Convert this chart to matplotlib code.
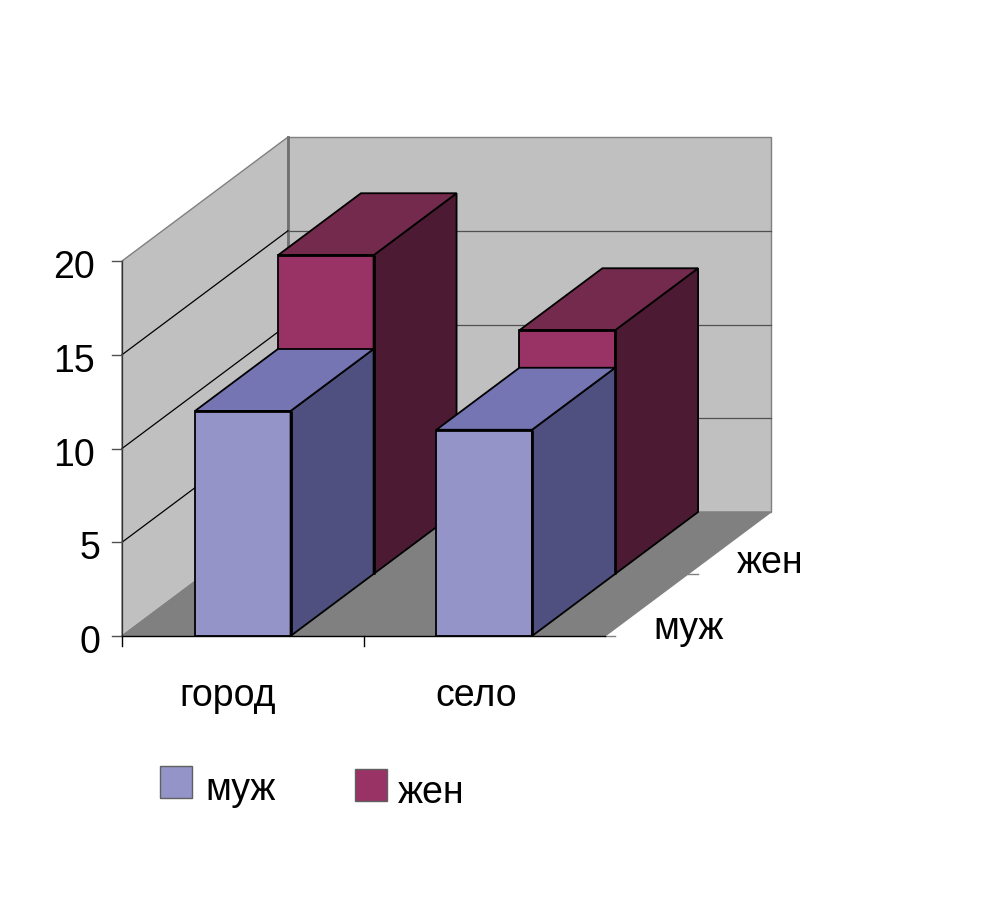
import matplotlib

matplotlib.use("Agg")
import matplotlib.pyplot as plt
from matplotlib.patches import Polygon, Rectangle
from matplotlib.transforms import Affine2D

plt.rcParams["font.family"] = ["Liberation Sans", "DejaVu Sans"]

categories = ["город", "село"]
series_names = ["муж", "жен"]
male_values = [12, 11]
female_values = [17, 13]
value_ticks = [0, 5, 10, 15, 20]

W, H = 1001, 909
X0, Y0 = 122, 636  # pixel position of the front left floor corner
CAT_PX = 241.5  # pixels per category
VAL_PX = 18.75  # pixels per value unit
DEPTH_DX = 166 / CAT_PX  # full depth, in category units
DEPTH_DY = 124 / VAL_PX  # full depth, in value units

BAR_OFFSET = 0.302
BAR_WIDTH = 0.396

front_colors = {"муж": "#9494c9", "жен": "#993366"}
top_colors = {"муж": "#7575b4", "жен": "#732a4d"}
side_colors = {"муж": "#4f4f80", "жен": "#4d1a33"}

fig = plt.figure(figsize=(W / 100, H / 100), dpi=100)
ax = fig.add_axes([0, 0, 1, 1])
ax.set_xlim(-X0 / CAT_PX, (W - X0) / CAT_PX)
ax.set_ylim((Y0 - H) / VAL_PX, Y0 / VAL_PX)
ax.axis("off")

# top-left pixel coordinates, for the labels and legend
px = Affine2D().scale(1 / W, -1 / H).translate(0, 1) + fig.transFigure


def pt(cat, val, depth):
    return (cat + depth * DEPTH_DX, val + depth * DEPTH_DY)


def face(points, color, edge="black", lw=1.3, z=1):
    ax.add_patch(Polygon(points, closed=True, facecolor=color, edgecolor=edge,
                         linewidth=lw, joinstyle="miter", zorder=z))


def draw_bar(i, value, name, d0, d1, z):
    x0 = i + BAR_OFFSET
    x1 = x0 + BAR_WIDTH
    face([pt(x0, 0, d0), pt(x1, 0, d0), pt(x1, value, d0), pt(x0, value, d0)],
         front_colors[name], z=z)
    face([pt(x1, 0, d0), pt(x1, 0, d1), pt(x1, value, d1), pt(x1, value, d0)],
         side_colors[name], z=z)
    face([pt(x0, value, d0), pt(x1, value, d0), pt(x1, value, d1), pt(x0, value, d1)],
         top_colors[name], z=z)
    # heavier front edges, as in the original
    ax.plot(*zip(pt(x0, value, d0), pt(x1, value, d0)),
            color="black", lw=2.0, zorder=z, solid_capstyle="butt")
    ax.plot(*zip(pt(x1, 0, d0), pt(x1, value, d0)),
            color="black", lw=2.0, zorder=z, solid_capstyle="butt")


top = value_ticks[-1]

# walls and floor
face([pt(0, 0, 0), pt(0, 0, 1), pt(0, top, 1), pt(0, top, 0)], "#c0c0c0", edge="#808080", lw=1)
face([pt(0, 0, 1), pt(2, 0, 1), pt(2, top, 1), pt(0, top, 1)], "#c0c0c0", edge="#808080", lw=1)
face([pt(0, 0, 0), pt(2, 0, 0), pt(2, 0, 1), pt(0, 0, 1)], "#808080", edge="#808080", lw=1)
ax.plot(*zip(pt(0, 0, 1), pt(0, top, 1)), color="#707070", lw=2, zorder=1.1)

# gridlines
for v in value_ticks[1:-1]:
    ax.plot(*zip(pt(0, v, 0), pt(0, v, 1)), color="black", lw=0.9, zorder=1.1)
    ax.plot(*zip(pt(0, v, 1), pt(2, v, 1)), color="#505050", lw=0.9, zorder=1.1)
ax.plot(*zip(pt(0, 0, 0), pt(0, top, 0)), color="#303030", lw=0.9, zorder=1.1)

# bars, back row first
for i, v in enumerate(female_values):
    draw_bar(i, v, "жен", 0.5, 1.0, z=2 + i)
for i, v in enumerate(male_values):
    draw_bar(i, v, "муж", 0.0, 0.5, z=5 + i)

# axis lines and ticks
ax.plot(*zip(pt(0, 0, 0), pt(2, 0, 0)), color="black", lw=1, zorder=8)
tick_x = 10 / CAT_PX
tick_y = 10 / VAL_PX
for v in value_ticks:
    ax.plot([-tick_x, 0], [v, v], color="#505050", lw=1, zorder=8)
for c in range(len(categories)):
    ax.plot([c, c], [0, -tick_y], color="black", lw=1, zorder=8)
for d in [0.0, 0.5]:
    x, y = pt(2, 0, d)
    ax.plot([x, x + tick_x], [y, y], color="#808080", lw=1, zorder=0.5)

FS = 27
for v in value_ticks:
    # single digits sit a little further right than the two-digit labels
    shift = -22 if v < 10 else -27
    ax.annotate(str(v), (0, v), xytext=(shift, -17), textcoords="offset pixels",
                ha="right", va="baseline", fontsize=FS, color="black")

for name, x, y in zip(categories, [228, 476], [706, 706]):
    ax.text(x, y, name, transform=px, ha="center", va="baseline", fontsize=FS)

for name, x, y in zip(series_names, [653, 737], [639, 573]):
    ax.text(x, y, name, transform=px, ha="left", va="baseline", fontsize=FS)

# legend
legend_boxes = [(160, 766), (355, 769)]
legend_text = [(205, 800), (398, 803)]
for name, (bx, by), (tx, ty) in zip(series_names, legend_boxes, legend_text):
    ax.add_patch(Rectangle((bx, by), 32, 32, transform=px, facecolor=front_colors[name],
                           edgecolor="#606060", linewidth=1))
    ax.text(tx, ty, name, transform=px, ha="left", va="baseline", fontsize=FS)

fig.savefig("out.png", dpi=100)
